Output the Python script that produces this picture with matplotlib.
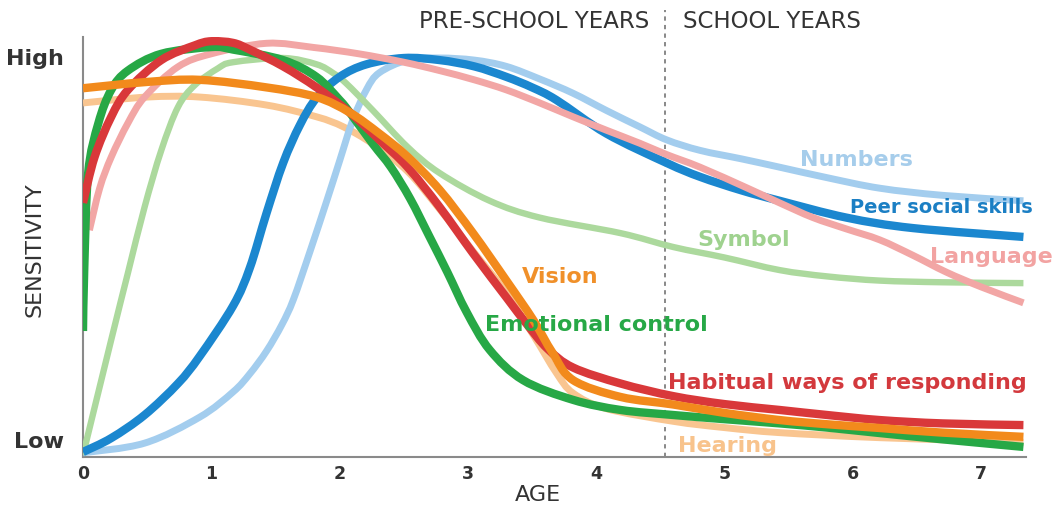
import matplotlib
matplotlib.use("Agg")
import numpy as np
import matplotlib.pyplot as plt
from matplotlib.path import Path
from matplotlib.patches import PathPatch

# ---------------- data (age in years, sensitivity on a 0-100 scale) ----------------
peer_age = [0, 0.22, 0.48, 0.74, 0.91, 1.17, 1.30, 1.43, 1.56, 1.69, 1.82, 2.0, 2.21, 2.5, 2.78, 3.05, 3.30, 3.5, 3.69, 4.08, 4.55, 4.81, 5.13, 5.43, 5.95, 6.47, 7.33]
peer_val = [1.2, 4.5, 10, 17.5, 24, 36, 45, 58, 70, 79, 85.5, 90.5, 93.5, 95, 94.5, 93, 90.5, 88, 85, 77, 70, 66.7, 63.5, 61, 57, 54.5, 52.4]

num_age = [0, 0.48, 0.91, 1.17, 1.30, 1.43, 1.55, 1.64, 1.77, 1.90, 2.0, 2.10, 2.21, 2.31, 2.53, 2.78, 3.05, 3.30, 3.56, 3.82, 4.08, 4.34, 4.55, 4.81, 5.13, 5.43, 5.8, 6.21, 6.7, 7.33]
num_val = [1.0, 3.3, 9.5, 15.5, 19.8, 25.2, 31.5, 37.5, 49, 61, 70.5, 80, 87.5, 91.5, 94.5, 95, 94.5, 93, 90, 86.6, 82.5, 78.6, 75.5, 73, 71, 69, 66.5, 64, 62.3, 61]

lang_age = [0.05, 0.13, 0.22, 0.35, 0.48, 0.74, 1.0, 1.43, 1.8, 2.15, 2.5, 2.78, 3.05, 3.30, 3.56, 3.82, 4.08, 4.34, 4.55, 4.81, 5.18, 5.43, 5.69, 5.95, 6.21, 6.47, 6.73, 7.0, 7.33]
lang_val = [54, 64, 71.4, 79.5, 85.7, 92.9, 96, 98.5, 97.5, 96, 94, 92, 89.8, 87.4, 84.3, 81, 77.8, 74.7, 72, 69, 64, 60.5, 57, 54.3, 51.7, 48, 44, 40.5, 36.7]

hab_age = [0, 0.09, 0.22, 0.35, 0.61, 0.87, 1.0, 1.17, 1.30, 1.56, 1.82, 2.08, 2.31, 2.53, 2.78, 3.04, 3.30, 3.46, 3.62, 3.82, 4.19, 4.6, 5.0, 5.43, 5.8, 6.21, 6.7, 7.33]
hab_val = [60.5, 71.4, 81, 87.4, 94.5, 98, 99, 98.6, 97, 93, 88, 82, 75.5, 69, 59.5, 48.5, 38, 31.6, 25.8, 21.3, 17.5, 14.5, 12.6, 11.2, 10, 8.8, 8, 7.6]

emo_age = [0, 0.01, 0.04, 0.12, 0.22, 0.35, 0.61, 1.0, 1.17, 1.56, 1.82, 2.0, 2.08, 2.26, 2.40, 2.55, 2.70, 2.84, 2.99, 3.17, 3.43, 3.82, 4.19, 4.6, 5.0, 5.43, 5.8, 6.21, 6.7, 7.33]
emo_val = [30, 45, 67.6, 79.5, 87.4, 92, 96, 97.6, 97, 94.5, 90.5, 85, 82, 74.5, 69, 61.5, 52.5, 44, 34.5, 25.5, 18.3, 13.6, 11.2, 10, 9, 8, 7, 5.7, 4.2, 2.4]

vis_age = [0, 0.5, 0.91, 1.43, 1.82, 2.08, 2.31, 2.53, 2.78, 3.04, 3.30, 3.51, 3.66, 3.82, 4.19, 4.6, 5.0, 5.43, 5.8, 6.21, 6.7, 7.33]
vis_val = [87.8, 89.3, 89.8, 88, 85.7, 82, 77, 71.5, 63.6, 53.3, 42, 32.6, 24.8, 18.3, 14.3, 12.5, 10.5, 8.8, 7.8, 6.9, 5.8, 4.8]

hear_age = [0, 0.5, 0.91, 1.43, 1.82, 2.03, 2.26, 2.53, 2.78, 3.04, 3.30, 3.51, 3.69, 3.82, 4.08, 4.6, 5.0, 5.43, 6.21, 7.33]
hear_val = [84.3, 85.7, 85.7, 83.8, 81, 78.6, 74.5, 68, 59, 49, 39, 29, 20, 15.2, 11.5, 8.5, 7, 5.8, 4.6, 3.5]

sym_age = [0, 0.22, 0.35, 0.48, 0.61, 0.74, 0.87, 1.05, 1.17, 1.56, 1.82, 1.95, 2.05, 2.26, 2.53, 2.78, 3.17, 3.56, 4.19, 4.6, 5.0, 5.43, 5.8, 6.21, 6.7, 7.33]
sym_val = [0.5, 27.9, 43.8, 59.5, 73, 83.3, 88.5, 92.5, 94, 95, 93.5, 91.4, 89, 82.5, 73.8, 67.6, 61, 57, 53.3, 50, 47.5, 44.5, 43, 42, 41.6, 41.4]

x_ticks = [0, 1, 2, 3, 4, 5, 6, 7]
y_ticks = [4, 95.2]
y_tick_labels = ["Low", "High"]
school_start = 4.536

# (label, ages, values, line colour, line width, text colour, text size, text x (age), text y)
series = [
    ("Hearing", hear_age, hear_val, "#f9c590", 5.0, "#f8c38c", 16, 4.64, 2.6),
    ("Numbers", num_age, num_val, "#a3cdee", 5.0, "#a6cdeb", 16, 5.59, 70.7),
    ("Symbol", sym_age, sym_val, "#acd99d", 4.6, "#9fd28f", 16, 4.79, 51.7),
    ("Peer social skills", peer_age, peer_val, "#1b87cf", 6.0, "#1b7fc4", 14, 5.98, 59.5),
    ("Language", lang_age, lang_val, "#f2a6a5", 5.0, "#f2a3a2", 16, 6.60, 47.6),
    ("Emotional control", emo_age, emo_val, "#27a846", 6.0, "#27a846", 16, 3.13, 31.4),
    ("Habitual ways of responding", hab_age, hab_val, "#d9383a", 6.0, "#d3393d", 16, 4.56, 17.6),
    ("Vision", vis_age, vis_val, "#f28a1c", 6.0, "#f0902a", 16, 3.42, 42.9),
]

FONT = "DejaVu Sans"
TXT = "#333333"


def smooth_path(xs, ys):
    """Smooth curve through the data points (Catmull-Rom drawn as cubic Bezier segments)."""
    pts = np.column_stack([xs, ys]).astype(float)
    n = len(pts)
    verts = [pts[0]]
    codes = [Path.MOVETO]
    for i in range(n - 1):
        p0 = pts[i - 1] if i > 0 else pts[i]
        p1 = pts[i]
        p2 = pts[i + 1]
        p3 = pts[i + 2] if i + 2 < n else pts[i + 1]
        verts += [p1 + (p2 - p0) / 6.0, p2 - (p3 - p1) / 6.0, p2]
        codes += [Path.CURVE4] * 3
    return Path(verts, codes)


fig = plt.figure(figsize=(10.55, 5.09), dpi=100)
ax = fig.add_axes([83 / 1055, 52 / 509, 943 / 1055, 420 / 509])
ax.set_xlim(0, 7.35)
ax.set_ylim(0, 100)

for name, xs, ys, col, lw, tcol, fs, tx, ty in series:
    patch = PathPatch(smooth_path(xs, ys), fill=False, edgecolor=col, lw=lw,
                      capstyle="butt", joinstyle="round", zorder=3)
    ax.add_patch(patch)
    ax.text(tx, ty, name, color=tcol, fontsize=fs, fontweight="bold", family=FONT,
            ha="left", va="center", zorder=5, clip_on=False)

ax.axvline(school_start, ymin=0, ymax=1.064, color="#888888", lw=1.4, ls=(0, (2.2, 2.2)),
           clip_on=False, zorder=1)

for s in ["top", "right"]:
    ax.spines[s].set_visible(False)
for s in ["left", "bottom"]:
    ax.spines[s].set_color("#8a8a8a")
    ax.spines[s].set_linewidth(1.5)

ax.set_xticks(x_ticks)
ax.set_xticklabels([str(t) for t in x_ticks], fontsize=12.5, fontweight="bold", color=TXT, family=FONT)
ax.set_yticks(y_ticks)
ax.set_yticklabels(y_tick_labels, fontsize=16, fontweight="bold", color=TXT, family=FONT)
ax.tick_params(axis="x", length=0, pad=6)
ax.tick_params(axis="y", length=0, pad=14)

fig.text(538 / 1055, 1 - 495 / 509, "AGE", fontsize=16, color=TXT, family=FONT, ha="center", va="center")
fig.text(35 / 1055, 1 - 250 / 509, "SENSITIVITY", fontsize=16, color=TXT, family=FONT,
         ha="center", va="center", rotation=90)

ax.text(school_start - 0.12, 103.6, "PRE-SCHOOL YEARS", ha="right", va="center", fontsize=16.5,
        color=TXT, family=FONT, clip_on=False)
ax.text(4.68, 103.6, "SCHOOL YEARS", ha="left", va="center", fontsize=16.5,
        color=TXT, family=FONT, clip_on=False)

fig.savefig("out.png", dpi=100)
